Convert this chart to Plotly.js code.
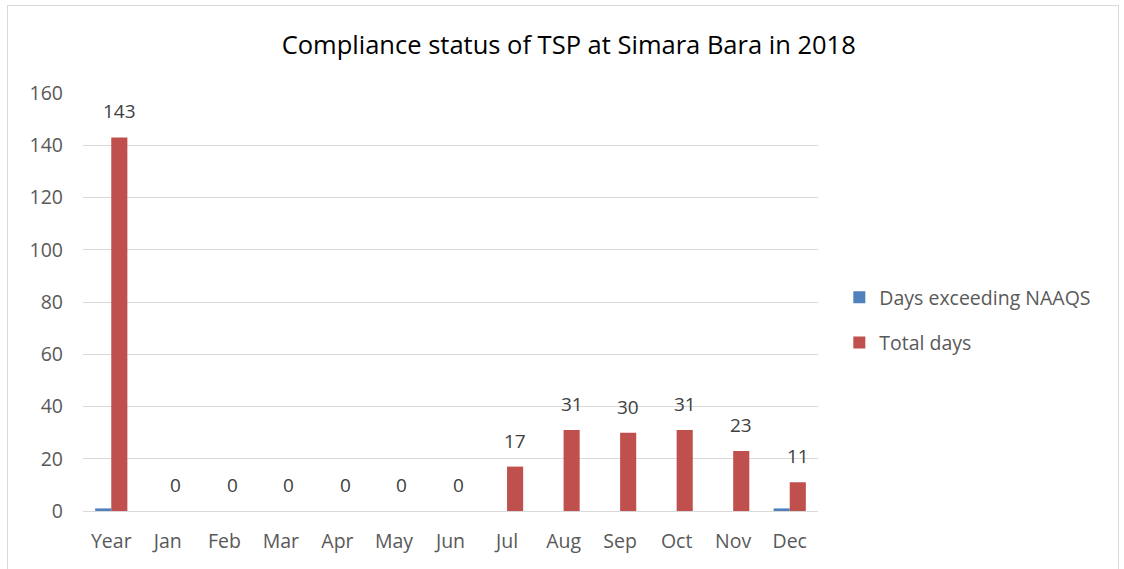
<!DOCTYPE html>
<html><head><meta charset="utf-8">
<script src="https://cdn.plot.ly/plotly-3.0.1.min.js"></script>
<style>
html,body{margin:0;padding:0;background:#fff;}
#frame{position:absolute;left:7px;top:5px;width:1112px;height:575px;border:1px solid #d9d9d9;box-sizing:border-box;pointer-events:none;}
#chart{position:absolute;left:0;top:0;width:1124px;height:569px;}
</style></head>
<body>
<div id="chart"></div>
<div id="frame"></div>
<script>
const categories = ["Year","Jan","Feb","Mar","Apr","May","Jun","Jul","Aug","Sep","Oct","Nov","Dec"];
const daysExceeding = [1,0,0,0,0,0,0,0,0,0,0,0,1];
const totalDays = [143,0,0,0,0,0,0,17,31,30,31,23,11];
const yTicks = [0,20,40,60,80,100,120,140,160];

const font = "Open Sans, Liberation Sans, sans-serif";
const txt = "#404040";
const traces = [
  {type:"bar", name:"Days exceeding NAAQS", x:categories, y:daysExceeding,
   marker:{color:"#4F81BD"}, legend:"legend", hoverinfo:"none"},
  {type:"bar", name:"Total days", x:categories, y:totalDays,
   marker:{color:"#C0504D"}, legend:"legend2", hoverinfo:"none"}
];
// data labels above the red bars, positioned through the axes
const annotations = categories.map((c, i) => ({
  x: c, y: totalDays[i], xref:"x", yref:"y", text: String(totalDays[i]),
  showarrow:false, xanchor:"center", yanchor:"bottom", xshift:8, yshift:11,
  font:{family:font, size:19, color:txt}
}));
const layout = {
  width:1124, height:569,
  margin:{l:83, r:306, t:93, b:58},
  paper_bgcolor:"#fff", plot_bgcolor:"#fff",
  font:{family:font, color:"#595959"},
  title:{text:"Compliance status of TSP at Simara Bara in 2018", font:{family:font,size:25.5,color:"#000"},
    x:0.506, xanchor:"center", y:1-45/569, yanchor:"middle", yref:"container"},
  barmode:"group", bargap:0.43, bargroupgap:0,
  annotations: annotations,
  xaxis:{type:"category", showgrid:false, showline:true, linecolor:"#d9d9d9", linewidth:1,
    ticks:"", tickfont:{family:font,size:19.5,color:"#595959"}, ticklabelstandoff:13},
  yaxis:{range:[0,160], tickvals:yTicks, showgrid:true, gridcolor:"#d9d9d9", gridwidth:1,
    zeroline:false, showline:false, ticks:"", tickfont:{family:font,size:19.5,color:"#595959"}, ticklabelstandoff:19},
  showlegend:true,
  legend:{x:1.029, y:0.557, xanchor:"left", yanchor:"top", font:{family:font,size:19.5,color:"#595959"}, itemwidth:30, bgcolor:"rgba(0,0,0,0)"},
  legend2:{x:1.029, y:0.449, xanchor:"left", yanchor:"top", font:{family:font,size:19.5,color:"#595959"}, itemwidth:30, bgcolor:"rgba(0,0,0,0)"}
};
Plotly.newPlot("chart", traces, layout, {displayModeBar:false, staticPlot:true});
</script>
</body></html>
